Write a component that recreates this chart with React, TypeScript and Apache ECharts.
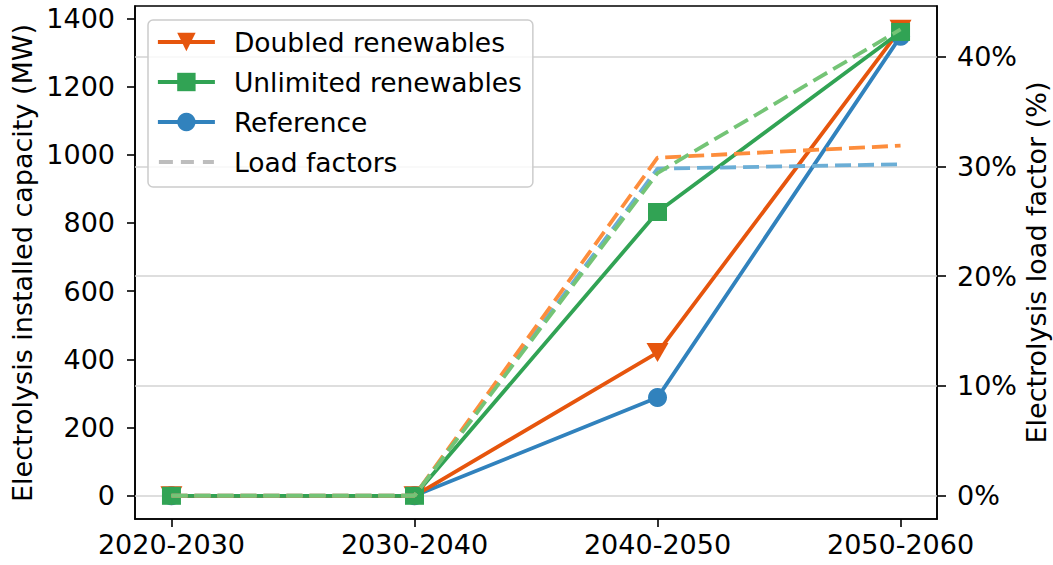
import React, { useEffect, useRef } from "react";
import * as echarts from "echarts";

const categories = ["2020-2030", "2030-2040", "2040-2050", "2050-2060"];
const doubled = [0, 0, 420, 1368];
const unlimited = [0, 0, 832, 1360];
const reference = [0, 0, 288, 1347];
const lfDoubled = [0, 0, 30.8, 31.9];
const lfUnlimited = [0, 0, 29.4, 42.5];
const lfReference = [0, 0, 29.8, 30.2];
const capTicks = [0, 200, 400, 600, 800, 1000, 1200, 1400];
const lfTicks = [0, 10, 20, 30, 40];
const catTicks = [0, 1, 2, 3];

const FONT = "DejaVu Sans";
const FS = 27;
const LW = 3.8;

const pairs = (arr: number[]) => arr.map((v, i) => [i, v]);

export default function App() {
  const ref = useRef<HTMLDivElement>(null);
  useEffect(() => {
    if (!ref.current) return;
    const chart = echarts.init(ref.current, undefined, { renderer: "svg" });
    const solid = (name: string, data: number[], color: string, symbol: string, size: any) => ({
      type: "line",
      name,
      data: pairs(data),
      yAxisIndex: 0,
      symbol,
      symbolSize: size,
      itemStyle: { color },
      lineStyle: { color, width: LW },
      z: 3,
    });
    const dashed = (name: string, data: number[], color: string) => ({
      type: "line",
      name,
      data: pairs(data),
      yAxisIndex: 1,
      symbol: "none",
      itemStyle: { color },
      lineStyle: { color, width: LW, type: [16, 7] },
      z: 4,
    });
    const dashIcon =
      "path://M0,0h0.01v0.01h-0.01z M56.99,22.99h0.01v0.01h-0.01z M1,9.6h14v3.8h-14z M23,9.6h13v3.8h-13z M45,9.6h11v3.8h-11z";
    chart.setOption({
      animation: false,
      textStyle: { fontFamily: FONT },
      grid: {
        left: 135,
        right: 116,
        top: 6,
        bottom: 46,
        show: true,
        borderColor: "#000",
        borderWidth: 1.6,
        backgroundColor: "transparent",
      },
      legend: {
        orient: "vertical",
        left: 148,
        top: 20,
        padding: [8, 11, 11, 8],
        itemWidth: 57,
        itemHeight: 23,
        itemGap: 12,
        backgroundColor: "rgba(255,255,255,0.8)",
        borderColor: "#cccccc",
        borderWidth: 1.5,
        borderRadius: 5,
        lineStyle: { width: LW },
        textStyle: {
          fontSize: 26.5,
          fontFamily: FONT,
          color: "#000",
          lineHeight: 28,
          padding: [0, 0, 0, 14],
        },
        data: [
          { name: "Doubled renewables" },
          { name: "Unlimited renewables" },
          { name: "Reference" },
          { name: "Load factors", icon: dashIcon },
        ],
        selectedMode: false,
      },
      xAxis: {
        type: "value",
        min: -0.15,
        max: 3.15,
        axisLine: { show: true, onZero: false, lineStyle: { color: "#000", width: 1.6 } },
        axisTick: {
          show: true,
          customValues: catTicks,
          length: 8,
          lineStyle: { color: "#000", width: 1.6 },
        },
        axisLabel: {
          customValues: catTicks,
          formatter: (v: number) => categories[Math.round(v)] ?? "",
          fontSize: FS,
          fontFamily: FONT,
          color: "#000",
          margin: 12,
        },
        splitLine: { show: false },
      },
      yAxis: [
        {
          type: "value",
          min: -68,
          max: 1436,
          position: "left",
          axisLine: { show: true, onZero: false, lineStyle: { color: "#000", width: 1.6 } },
          axisTick: {
            show: true,
            customValues: capTicks,
            length: 8,
            lineStyle: { color: "#000", width: 1.6 },
          },
          axisLabel: {
            customValues: capTicks,
            formatter: (v: number) => String(v),
            fontSize: FS,
            fontFamily: FONT,
            color: "#000",
            margin: 20,
          },
          splitLine: { show: false },
        },
        {
          type: "value",
          min: -2.125,
          max: 44.625,
          position: "right",
          axisLine: { show: true, onZero: false, lineStyle: { color: "#000", width: 1.6 } },
          axisTick: {
            show: true,
            customValues: lfTicks,
            length: 9,
            lineStyle: { color: "#000", width: 1.6 },
          },
          axisLabel: {
            customValues: lfTicks,
            formatter: (v: number) => `${v}%`,
            fontSize: FS,
            fontFamily: FONT,
            color: "#000",
            margin: 20,
          },
          splitLine: { show: false },
        },
      ],
      graphic: [
        {
          type: "text",
          x: 22,
          y: 263,
          rotation: Math.PI / 2,
          style: {
            text: "Electrolysis installed capacity (MW)",
            fontSize: FS,
            fontFamily: FONT,
            fill: "#000",
            align: "center",
            verticalAlign: "middle",
          },
        },
        {
          type: "text",
          x: 1036,
          y: 262.5,
          rotation: Math.PI / 2,
          style: {
            text: "Electrolysis load factor (%)",
            fontSize: FS,
            fontFamily: FONT,
            fill: "#000",
            align: "center",
            verticalAlign: "middle",
          },
        },
      ],
      series: [
        {
          type: "line",
          name: "gridlines",
          data: [],
          yAxisIndex: 1,
          z: 1,
          markLine: {
            silent: true,
            z: 1,
            symbol: ["none", "none"],
            label: { show: false },
            lineStyle: { color: "#d3d3d3", width: 1.5, type: "solid" },
            emphasis: { disabled: true },
            data: lfTicks.map((t) => ({ yAxis: t })),
          },
        },
        solid("Reference", reference, "#3182bd", "circle", 19),
        solid("Doubled renewables", doubled, "#e6550d", "path://M0,0L10,0L5,10Z", [22, 19]),
        solid("Unlimited renewables", unlimited, "#31a354", "rect", [19, 18]),
        dashed("LF Reference", lfReference, "#6baed6"),
        dashed("LF Doubled", lfDoubled, "#fd8d3c"),
        dashed("LF Unlimited", lfUnlimited, "#74c476"),
        {
          type: "line",
          name: "Load factors",
          data: [],
          yAxisIndex: 1,
          symbol: "none",
          itemStyle: { color: "#bdbdbd" },
          lineStyle: { color: "#bdbdbd", width: LW, type: [13, 7] },
        },
      ],
    });
    return () => chart.dispose();
  }, []);
  return <div ref={ref} style={{ width: 1053, height: 565, position: "absolute", left: 0, top: 0 }} />;
}
